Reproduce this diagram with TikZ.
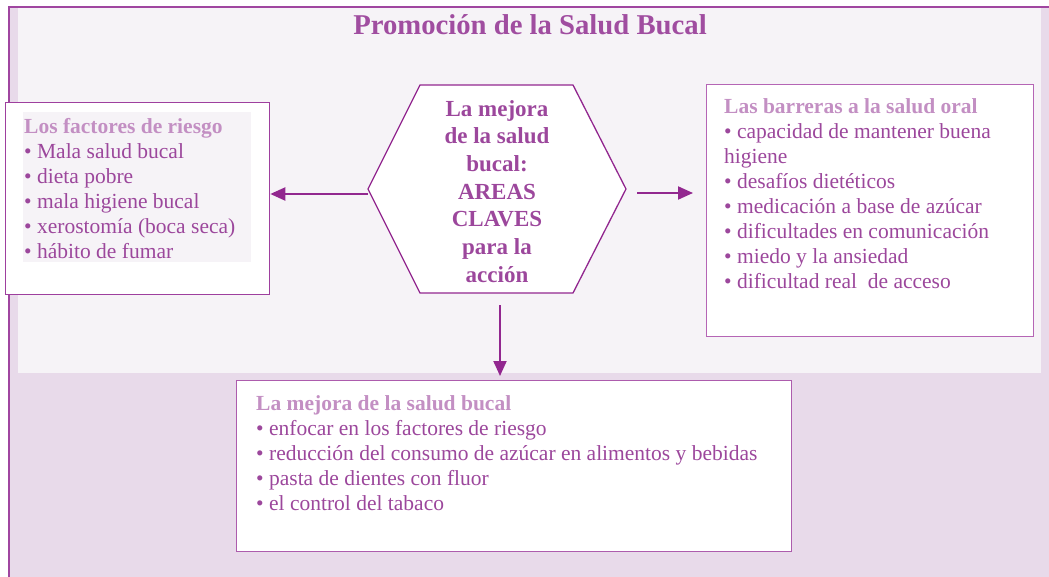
\documentclass[tikz,border=0pt]{standalone}
\usepackage{fontspec}
\setmainfont{Liberation Serif}
\usetikzlibrary{arrows.meta}
\definecolor{bglav}{HTML}{E8DAEA}
\definecolor{panel}{HTML}{F6F3F7}
\definecolor{framec}{HTML}{A046A0}
\definecolor{boxc}{HTML}{9E3F9E}
\definecolor{boxr}{HTML}{B565B5}
\definecolor{bodyc}{HTML}{9C479C}
\definecolor{headc}{HTML}{C38FC3}
\definecolor{titlec}{HTML}{A04DA0}
\definecolor{arrowc}{HTML}{92278F}
\begin{document}
\begin{tikzpicture}[x=1pt,y=-1pt,
  boxnode/.style={draw=boxc, line width=1.3pt, fill=white, anchor=north west, inner sep=0pt},
  txt/.style={font=\fontsize{21.5}{25}\selectfont, align=left, inner sep=0pt, anchor=north west, text=bodyc},
  conn/.style={draw=arrowc, line width=2pt, -{Triangle[length=15pt,width=13pt]}}
]
\useasboundingbox (0,0) rectangle (1049,577);
% backgrounds
\fill[bglav] (9,7) rectangle (1049,577);
\fill[panel] (18,8.5) rectangle (1041,373);
\draw[framec, line width=1.3pt] (9,577) -- (9,7) -- (1049,7);
% title
\node[anchor=base, inner sep=0pt, text=titlec, font=\fontsize{28.7}{32}\selectfont\bfseries] (title) at (530,35) {Promoción de la Salud Bucal};
% left box
\node[boxnode, minimum width=264pt, minimum height=192pt] (lbox) at (5,102) {};
\fill[panel] (23,112) rectangle (251,262);
\node[txt] (ltxt) at (24,115.5) {\strut\textcolor{headc}{\textbf{Los factores de riesgo}}\\
• Mala salud bucal\\
• dieta pobre\\
• mala higiene bucal\\
• xerostomía (boca seca)\\
• hábito de fumar};
% right box
\node[boxnode, draw=boxr, minimum width=327pt, minimum height=252pt] (rbox) at (706,84) {};
\node[txt] (rtxt) at (724,95.5) {\strut\textcolor{headc}{\textbf{Las barreras a la salud oral}}\\
• capacidad de mantener buena\\
higiene\\
• desafíos dietéticos\\
• medicación a base de azúcar\\
• dificultades en comunicación\\
• miedo y la ansiedad\\
• dificultad real~ de acceso};
% bottom box
\node[boxnode, draw=boxc!85, minimum width=555pt, minimum height=171pt] (bbox) at (236,380) {};
\node[txt] (btxt) at (256,392.5) {\strut\textcolor{headc}{\textbf{La mejora de la salud bucal}}\\
• enfocar en los factores de riesgo\\
• reducción del consumo de azúcar en alimentos y bebidas\\
• pasta de dientes con fluor\\
• el control del tabaco};
% hexagon
\coordinate (hL) at (368,189);
\coordinate (hTL) at (420,85);
\coordinate (hTR) at (573,85);
\coordinate (hR) at (626,189);
\coordinate (hBR) at (573,293);
\coordinate (hBL) at (420,293);
\draw[arrowc, line width=1.3pt, fill=white] (hL) -- (hTL) -- (hTR) -- (hR) -- (hBR) -- (hBL) -- cycle;
\node[anchor=north, align=center, inner sep=0pt, text=bodyc, font=\fontsize{23}{27.7}\selectfont\bfseries] (hex) at (497,96.6) {\strut La mejora\\de la salud\\bucal:\\AREAS\\CLAVES\\para la\\acción};
% connectors
\coordinate (aL) at (368,194);
\coordinate (aR1) at (637,193);
\coordinate (aR2) at (693,193);
\coordinate (aD1) at (500,305);
\coordinate (aD2) at (500,376);
\draw[conn] (aL) -- (lbox.east |- aL);
\draw[conn] (aR1) -- (aR2);
\draw[conn] (aD1) -- (aD2);
\end{tikzpicture}
\end{document}
